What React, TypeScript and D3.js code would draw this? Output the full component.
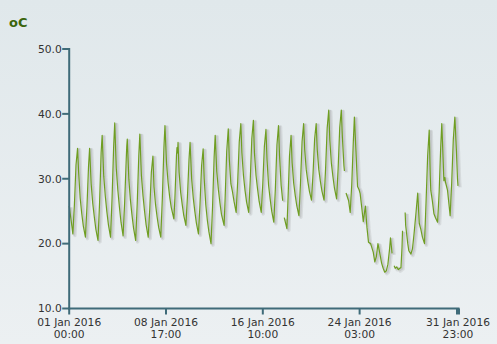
import React from "react";
import * as d3 from "d3";

// [day of January 2016, hour, temperature °C] — null marks a gap in the record
const readings: [number, number, number | null][] = [
  [1, 0, 25.8], [1, 3, 24.0], [1, 7, 21.5], [1, 10, 26.1], [1, 13, 32.1], [1, 16, 34.7], [1, 18, 31.0], [1, 21, 27.0],
  [2, 0, 24.6], [2, 3, 22.7], [2, 7, 21.0], [2, 10, 25.8], [2, 13, 32.0], [2, 15, 34.7], [2, 18, 29.2], [2, 21, 26.2],
  [3, 0, 24.1], [3, 3, 22.2], [3, 7, 20.5], [3, 10, 26.2], [3, 13, 34.0], [3, 14, 35.4], [3, 15, 36.7], [3, 18, 30.4], [3, 21, 27.3],
  [4, 0, 24.9], [4, 3, 22.9], [4, 7, 21.0], [4, 10, 27.2], [4, 13, 35.1], [4, 15, 38.6], [4, 18, 31.6], [4, 21, 28.2],
  [5, 0, 25.6], [5, 3, 23.3], [5, 7, 21.2], [5, 10, 26.4], [5, 13, 33.0], [5, 14, 35.0], [5, 15, 36.1], [5, 18, 29.9], [5, 21, 26.7],
  [6, 0, 24.4], [6, 3, 22.4], [6, 7, 20.5], [6, 10, 26.2], [6, 13, 33.6], [6, 15, 36.9], [6, 18, 30.5], [6, 21, 27.4],
  [7, 0, 25.0], [7, 3, 22.9], [7, 7, 21.0], [7, 10, 25.4], [7, 13, 31.0], [7, 16, 33.5], [7, 18, 28.8], [7, 21, 26.0],
  [8, 0, 24.1], [8, 3, 22.5], [8, 7, 21.0], [8, 10, 27.0], [8, 13, 34.8], [8, 15, 38.2], [8, 18, 32.4], [8, 21, 29.4],
  [9, 0, 27.2], [9, 3, 25.6], [9, 8, 23.8], [9, 10, 27.0], [9, 13, 33.5], [9, 14, 34.8], [9, 15, 34.0], [9, 16, 35.6], [9, 18, 31.0], [9, 21, 27.9],
  [10, 0, 26.0], [10, 3, 24.3], [10, 7, 22.8], [10, 10, 27.3], [10, 13, 33.0], [10, 15, 35.6], [10, 18, 30.0], [10, 21, 27.1],
  [11, 0, 25.0], [11, 3, 23.2], [11, 7, 21.5], [11, 10, 26.1], [11, 13, 32.0], [11, 16, 34.6], [11, 18, 30.0], [11, 21, 26.0],
  [12, 0, 23.6], [12, 3, 21.8], [12, 7, 20.0], [12, 10, 25.8], [12, 13, 33.4], [12, 15, 36.7], [12, 18, 31.1], [12, 21, 28.4],
  [13, 0, 26.3], [13, 3, 24.5], [13, 8, 22.8], [13, 10, 27.0], [13, 13, 34.2], [13, 16, 37.7], [13, 18, 33.0], [13, 21, 29.2],
  [14, 0, 28.0], [14, 3, 26.5], [14, 7, 24.8], [14, 10, 29.6], [14, 13, 35.7], [14, 16, 38.5], [14, 18, 34.0], [14, 21, 30.5],
  [15, 0, 28.2], [15, 3, 26.4], [15, 7, 24.8], [15, 10, 29.8], [15, 13, 36.2], [15, 16, 39.0], [15, 18, 34.0], [15, 21, 30.5],
  [16, 0, 28.4], [16, 3, 26.5], [16, 7, 24.8], [16, 10, 29.3], [16, 13, 35.0], [16, 16, 37.6], [16, 18, 33.0], [16, 21, 29.0],
  [17, 0, 26.9], [17, 3, 25.0], [17, 7, 23.3], [17, 10, 28.5], [17, 13, 35.2], [17, 16, 38.2], [17, 18, 33.5], [17, 21, 29.0],
  [18, 0, 26.6], [18, 1, null], [18, 3, 24.0], [18, 8, 22.3], [18, 10, 26.5], [18, 13, 33.5], [18, 16, 36.7], [18, 18, 32.5], [18, 21, 29.3],
  [19, 0, 27.4], [19, 3, 25.8], [19, 7, 24.3], [19, 10, 29.3], [19, 13, 35.7], [19, 16, 38.5], [19, 18, 34.5], [19, 21, 31.4],
  [20, 0, 29.6], [20, 3, 28.1], [20, 7, 26.7], [20, 10, 30.8], [20, 13, 36.1], [20, 16, 38.5], [20, 18, 34.5], [20, 21, 31.4],
  [21, 0, 29.6], [21, 3, 28.1], [21, 7, 26.7], [21, 10, 31.6], [21, 13, 37.8], [21, 16, 40.6], [21, 18, 36.0], [21, 21, 32.4],
  [22, 0, 30.3], [22, 3, 28.5], [22, 7, 26.9], [22, 10, 31.7], [22, 13, 37.9], [22, 16, 40.6], [22, 18, 36.5], [22, 21, 32.0], [22, 22, 31.2], [22, 23, null],
  [23, 1, 27.8], [23, 6, 26.6], [23, 9, 24.8], [23, 12, 29.2], [23, 15, 35.8], [23, 17, 39.5], [23, 20, 34.3], [23, 23, 28.8],
  [24, 2, 28.3], [24, 4, 27.7], [24, 7, 25.6], [24, 10, 23.4], [24, 14, 25.8], [24, 17, 22.5], [24, 20, 20.2],
  [25, 0, 20.0], [25, 5, 18.7], [25, 8, 17.2], [25, 11, 18.0], [25, 14, 20.0], [25, 15, 19.6], [25, 18, 18.3], [25, 21, 17.0],
  [26, 0, 16.2], [26, 3, 15.6], [26, 6, 15.8], [26, 9, 16.8], [26, 12, 19.0], [26, 14, 20.9], [26, 17, 18.5], [26, 18, null], [26, 21, 16.6], [26, 23, 16.2],
  [27, 2, 16.4], [27, 5, 16.0], [27, 8, 16.2], [27, 10, 16.3], [27, 12, 19.4], [27, 13, 22.0], [27, 14, null], [27, 18, 24.8], [27, 19, 22.8], [27, 21, 21.4], [27, 23, 20.0],
  [28, 1, 18.9], [28, 5, 18.4], [28, 8, 19.2], [28, 11, 21.5], [28, 15, 25.0], [28, 18, 27.8], [28, 21, 23.1],
  [29, 0, 22.2], [29, 3, 21.0], [29, 7, 20.0], [29, 10, 26.5], [29, 13, 33.5], [29, 16, 37.5], [29, 18, 30.5], [29, 19, 28.2], [29, 22, 26.6],
  [30, 1, 24.6], [30, 4, 24.0], [30, 8, 23.3], [30, 11, 28.0], [30, 14, 35.0], [30, 16, 38.5], [30, 18, 34.3], [30, 20, 29.7], [30, 22, 30.2], [30, 23, 29.5],
  [31, 3, 28.2], [31, 8, 24.3], [31, 11, 29.5], [31, 14, 36.0], [31, 17, 39.5], [31, 20, 34.3], [31, 22, 30.0], [31, 23, 28.9],
];

const yTicks = [10, 20, 30, 40, 50];
const xTickTimes: [number, number][] = [[1, 0], [8, 17], [16, 10], [24, 3], [31, 23]];
const xTickDateLabels = ["01 Jan 2016", "08 Jan 2016", "16 Jan 2016", "24 Jan 2016", "31 Jan 2016"];
const xTickTimeLabels = ["00:00", "17:00", "10:00", "03:00", "23:00"];
const unitLabel = "oC";

type Pt = { t: Date; v: number | null };

export default function App() {
  const W = 497;
  const H = 344;
  const axisColor = "#3f6b79";
  const font = "'DejaVu Sans', Verdana, sans-serif";

  const x = d3
    .scaleTime()
    .domain([new Date(2016, 0, 1, 0), new Date(2016, 0, 31, 23)])
    .range([69.2, 458]);
  const y = d3.scaleLinear().domain([10, 50]).range([308.5, 49]);

  const pts: Pt[] = readings.map(([d, h, v]) => ({ t: new Date(2016, 0, d, h), v }));
  const line = d3
    .line<Pt>()
    .defined((p) => p.v != null)
    .x((p) => x(p.t))
    .y((p) => y(p.v as number));
  const path = line(pts) || "";

  const x0 = x.range()[0];
  const x1 = x.range()[1];
  const yBottom = y(10);
  const yTop = y(50);

  return (
    <div style={{ position: "fixed", left: 0, top: 0 }}>
      <svg width={W} height={H} style={{ display: "block" }}>
        <defs>
          <linearGradient id="bg" x1="0" y1="0" x2="0" y2="1">
            <stop offset="0" stopColor="#e0e8eb" />
            <stop offset="1" stopColor="#ecf0f2" />
          </linearGradient>
        </defs>
        <rect x={0} y={0} width={W} height={H} fill="url(#bg)" />

        <text x={9} y={26.5} fontFamily={font} fontSize={13} fontWeight="bold" fill="#3b650c">
          {unitLabel}
        </text>

        {/* series shadow */}
        <path d={path} fill="none" stroke="#8a8a8a" strokeOpacity={0.18} strokeWidth={3.5} transform="translate(2,1.5)" strokeLinejoin="round" />
        <path d={path} fill="none" stroke="#8a8a8a" strokeOpacity={0.22} strokeWidth={1.8} transform="translate(1.5,1)" strokeLinejoin="round" />
        {/* series */}
        <path d={path} fill="none" stroke="#6f9e22" strokeWidth={1.2} strokeLinejoin="round" />

        {/* y axis */}
        <line x1={x0} x2={x0} y1={yTop - 1} y2={yBottom + 1} stroke={axisColor} strokeWidth={2} />
        {yTicks.map((t) => (
          <g key={t}>
            <line x1={x0 - 7} x2={x0} y1={y(t)} y2={y(t)} stroke={axisColor} strokeWidth={2} />
            <text x={x0 - 7.5} y={y(t)} dy="0.36em" textAnchor="end" fontFamily={font} fontSize={10.7} fill="#333">
              {t.toFixed(1)}
            </text>
          </g>
        ))}

        {/* x axis */}
        <line x1={x0 - 1} x2={x1 + 1.5} y1={yBottom} y2={yBottom} stroke={axisColor} strokeWidth={2} />
        {xTickTimes.map(([d, h], i) => {
          const xp = x(new Date(2016, 0, d, h));
          const last = i === xTickTimes.length - 1;
          return (
            <g key={i}>
              <line
                x1={xp}
                x2={xp}
                y1={yBottom}
                y2={yBottom + 6}
                stroke={axisColor}
                strokeWidth={last ? 4 : 2}
              />
              <text x={xp} y={325.5} textAnchor="middle" fontFamily={font} fontSize={10.7} fill="#333">
                {xTickDateLabels[i]}
              </text>
              <text x={xp} y={338} textAnchor="middle" fontFamily={font} fontSize={10.7} fill="#333">
                {xTickTimeLabels[i]}
              </text>
            </g>
          );
        })}
      </svg>
    </div>
  );
}
